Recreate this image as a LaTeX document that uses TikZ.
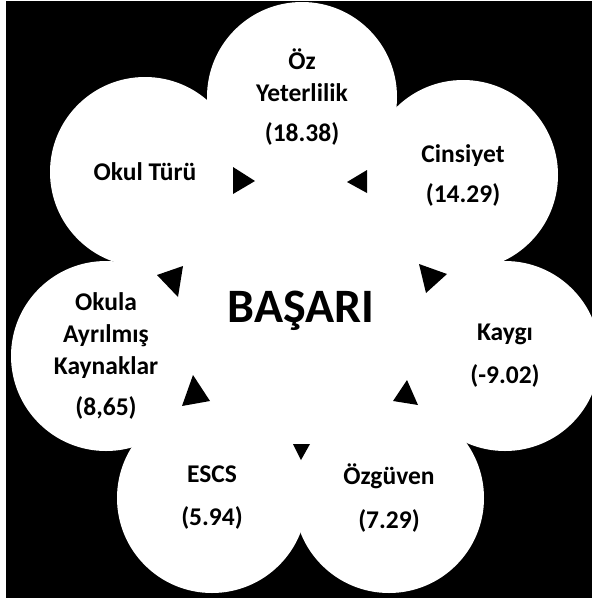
\documentclass[tikz,border=0pt]{standalone}
\usepackage{fontspec}
\setmainfont{Carlito}
\tikzset{bubble/.style={circle, fill=white, minimum size=190pt, inner sep=0pt, align=center, font=\fontsize{25.5}{32}\selectfont\bfseries}, hub/.style={circle, fill=white, minimum size=344pt, inner sep=0pt}, tipmark/.style={fill=black}, x=1pt, y=-1pt}

\begin{document}
\begin{tikzpicture}
    \useasboundingbox (0,0) rectangle (592,603);
    \fill[black] (6,1) rectangle (592,598);
    \clip (6,1) rectangle (592,598);
    \node[hub] (Hub) at (300,316) {};
    \node[bubble] (Oz) at (302,97) {Öz\\Yeterlilik\\[8pt](18.38)};
    \node[bubble] (Cins) at (463,175) {Cinsiyet\\[8pt](14.29)};
    \node[bubble] (Kay) at (505,356) {Kaygı\\[11pt](-9.02)};
    \node[bubble] (Ozg) at (389,498) {Özgüven\\[12pt](7.29)};
    \node[bubble] (Escs) at (212,498) {ESCS\\[11pt](5.94)};
    \node[bubble] (Kayn) at (106,356) {Okula\\Ayrılmış\\Kaynaklar\\[9pt](8,65)};
    \node[bubble] (Tur) at (145,172) {Okul Türü};
    \node[font=\fontsize{48}{50}\selectfont\bfseries, anchor=base] (Basari) at (301,322) {BAŞARI};
    % arrow tips round the hub
    \fill[tipmark] (233,167) -- (255,181) -- (233,194) -- cycle;
    \fill[tipmark] (367,170) -- (347,182) -- (367,193) -- cycle;
    \fill[tipmark] (419,264) -- (447,274) -- (426,293) -- cycle;
    \fill[tipmark] (407,380) -- (418,405) -- (393,401) -- cycle;
    \fill[tipmark] (293,444) -- (310,444) -- (301,460) -- cycle;
    \fill[tipmark] (193,375) -- (210,401) -- (182,406) -- cycle;
    \fill[tipmark] (157,275) -- (183,266) -- (178,297) -- cycle;
\end{tikzpicture}
\end{document}
